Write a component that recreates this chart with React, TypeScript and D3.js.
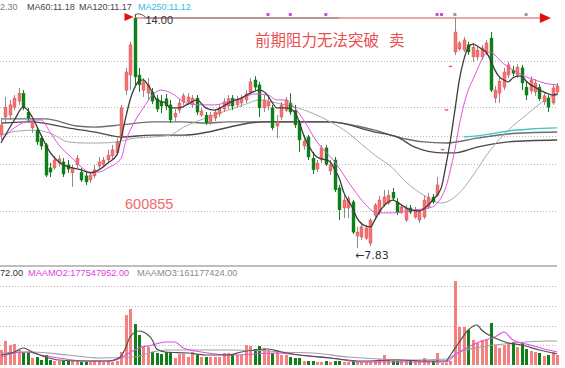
import React from 'react';
import * as d3 from 'd3';

const W = 565;
const H = 368;

// ---- daily candles (price) ----
const opens = [
  10.82, 11.30, 11.35, 11.56, 11.72, 11.93, 11.43, 11.01, 10.95, 10.74,
  10.56, 9.95, 9.95, 10.08, 10.11, 10.03, 9.82, 10.03, 9.84, 9.74,
  9.63, 9.74, 10.00, 10.05, 10.16, 10.27, 10.35, 10.74, 12.01, 12.41,
  13.92, 12.41, 12.01, 11.93, 11.96, 11.78, 11.70, 11.78, 11.62, 11.30,
  11.48, 11.70, 11.70, 11.62, 11.80, 11.35, 11.35, 11.17, 11.27, 11.38,
  11.51, 11.59, 11.80, 11.62, 11.67, 11.75, 11.96, 12.28, 12.15, 11.54,
  11.59, 11.54, 11.06, 11.30, 11.48, 11.67, 11.48, 11.14, 10.53, 10.77,
  10.21, 9.92, 10.16, 10.48, 9.87, 10.16, 9.42, 8.89, 8.89, 9.05,
  8.15, 8.12, 8.09, 7.96, 8.70, 8.78, 8.97, 9.02, 9.31, 9.05,
  8.78, 8.57, 8.89, 8.65, 8.57, 8.65, 8.92, 9.18, 9.23, 10.45,
  11.50, 12.65, 13.02, 13.10, 13.07, 13.21, 12.89, 12.89, 12.89, 13.02,
  13.39, 11.80, 11.93, 12.09, 12.41, 12.54, 12.41, 12.60, 12.09, 11.99,
  11.96, 12.09, 11.70, 11.80, 11.67, 11.96,
];
const highs = [
  11.27, 11.83, 11.75, 11.88, 12.07, 12.01, 11.54, 11.27, 11.03, 10.82,
  10.61, 10.08, 10.27, 10.29, 10.21, 10.16, 10.03, 10.29, 9.95, 9.84,
  9.84, 10.03, 10.24, 10.24, 10.43, 10.56, 10.74, 11.62, 12.60, 13.29,
  14.00, 12.60, 12.33, 12.33, 12.07, 11.88, 11.88, 11.91, 11.75, 11.51,
  11.78, 11.93, 11.93, 11.88, 11.88, 11.54, 11.43, 11.43, 11.51, 11.62,
  11.80, 11.88, 11.88, 11.86, 11.88, 12.01, 12.33, 12.38, 12.23, 11.88,
  11.83, 11.62, 11.35, 11.70, 11.83, 11.93, 11.62, 11.22, 10.82, 10.82,
  10.37, 10.16, 10.56, 10.56, 10.16, 10.24, 9.50, 9.23, 9.21, 9.10,
  8.39, 8.52, 8.44, 8.62, 9.02, 9.21, 9.37, 9.37, 9.42, 9.15,
  9.00, 8.97, 8.97, 8.92, 8.84, 9.21, 9.29, 9.26, 9.71, 10.45,
  11.50, 12.65, 13.92, 13.31, 13.42, 13.29, 13.26, 13.18, 13.21, 13.34,
  13.55, 12.12, 12.38, 12.60, 12.76, 12.65, 12.70, 12.68, 12.23, 12.38,
  12.30, 12.17, 11.96, 11.88, 12.17, 12.20,
];
const lows = [
  10.69, 11.17, 11.22, 11.48, 11.62, 11.48, 11.17, 10.88, 10.56, 10.43,
  9.71, 9.71, 9.90, 9.98, 9.71, 9.82, 9.45, 9.95, 9.58, 9.50,
  9.55, 9.68, 9.90, 9.98, 10.08, 10.16, 10.29, 10.69, 11.88, 12.01,
  12.15, 11.96, 11.83, 11.75, 11.64, 11.43, 11.40, 11.48, 11.14, 11.17,
  11.40, 11.62, 11.62, 11.54, 11.35, 11.30, 11.09, 11.09, 11.19, 11.30,
  11.43, 11.51, 11.48, 11.54, 11.56, 11.67, 11.88, 12.01, 11.30, 11.43,
  11.48, 10.95, 10.74, 11.22, 11.43, 11.35, 11.01, 10.37, 10.43, 10.16,
  9.79, 9.84, 10.08, 10.00, 9.76, 9.31, 8.57, 8.62, 8.62, 8.20,
  7.83, 8.04, 8.04, 7.88, 8.57, 8.70, 8.92, 8.97, 9.10, 8.70,
  8.73, 8.52, 8.73, 8.60, 8.49, 8.60, 8.86, 9.00, 9.18, 10.45,
  11.50, 12.65, 12.94, 13.05, 13.02, 12.94, 12.76, 12.81, 12.81, 12.94,
  11.96, 11.67, 11.67, 12.01, 12.33, 12.38, 12.33, 12.01, 11.75, 11.91,
  11.86, 11.72, 11.62, 11.43, 11.62, 11.88,
];
const closes = [
  11.09, 11.56, 11.62, 11.80, 11.93, 11.56, 11.27, 11.17, 10.64, 10.53,
  9.76, 9.84, 10.16, 10.19, 9.79, 9.92, 9.95, 10.21, 9.63, 9.58,
  9.76, 9.90, 10.11, 10.16, 10.29, 10.43, 10.64, 11.54, 12.49, 13.21,
  12.36, 12.15, 12.23, 12.15, 11.72, 11.51, 11.59, 11.59, 11.22, 11.40,
  11.67, 11.86, 11.83, 11.80, 11.43, 11.46, 11.14, 11.35, 11.43, 11.54,
  11.70, 11.78, 11.59, 11.75, 11.80, 11.91, 12.23, 12.09, 11.54, 11.75,
  11.70, 11.01, 11.17, 11.62, 11.75, 11.43, 11.09, 10.69, 10.66, 10.24,
  9.90, 10.08, 10.48, 10.05, 10.03, 9.37, 8.84, 9.10, 9.15, 8.25,
  8.25, 8.39, 8.36, 8.57, 8.97, 9.10, 9.18, 9.23, 9.15, 8.76,
  8.92, 8.89, 8.78, 8.84, 8.78, 9.10, 9.18, 9.05, 9.50, 10.45,
  11.50, 12.65, 13.55, 13.26, 13.34, 13.02, 13.15, 13.07, 13.13, 13.26,
  12.01, 12.01, 12.25, 12.49, 12.68, 12.46, 12.62, 12.20, 11.88, 12.28,
  12.20, 11.78, 11.86, 11.56, 12.07, 12.12,
];
// volume (scaled units)
const volumes = [
  15, 24, 20, 21, 15, 13, 13, 7, 8, 5,
  10, 5, 4, 4, 4, 4, 4, 4, 3, 3,
  3, 4, 4, 3, 4, 3, 4, 13, 50, 56,
  41, 30, 19, 18, 13, 12, 11, 13, 13, 7,
  11, 11, 8, 13, 10, 8, 8, 8, 8, 8,
  12, 12, 10, 10, 10, 20, 19, 16, 19, 17,
  15, 12, 13, 10, 10, 8, 7, 7, 4, 4,
  4, 3, 3, 4, 3, 4, 4, 3, 3, 4,
  3, 3, 3, 3, 4, 6, 10, 6, 4, 4,
  4, 4, 4, 4, 4, 7, 4, 4, 12, 2,
  2, 4, 84, 38, 38, 35, 25, 22, 25, 25,
  42, 20, 17, 20, 21, 23, 18, 22, 16, 14,
  13, 12, 9, 10, 13, 10,
];

// ---- moving average lines: [candle index, value] ----
const ma5Pts = [
  [0, 10.61], [3, 11.22], [5, 11.56], [6, 11.48], [7, 11.30], [9, 10.82], [11, 10.37], [13, 10.11],
  [16, 9.95], [18, 9.90], [20, 9.82], [22, 9.90], [24, 10.08], [26, 10.29], [27, 10.74], [28, 11.27],
  [29, 11.75], [30, 12.07], [31, 12.25], [32, 12.28], [33, 12.15], [34, 11.96], [35, 11.75], [37, 11.67],
  [38, 11.54], [40, 11.54], [42, 11.64], [44, 11.75], [46, 11.54], [48, 11.48], [50, 11.59], [52, 11.72],
  [54, 11.80], [56, 11.93], [58, 12.01], [60, 11.86], [61, 11.67], [62, 11.54], [64, 11.54], [66, 11.43],
  [67, 11.17], [68, 10.82], [70, 10.37], [71, 10.24], [73, 10.16], [74, 10.11], [75, 9.90], [76, 9.68],
  [77, 9.31], [79, 8.89], [80, 8.62], [82, 8.41], [83, 8.39], [84, 8.57], [85, 8.78], [87, 9.05],
  [88, 9.10], [89, 9.05], [90, 8.97], [92, 8.84], [94, 8.81], [96, 8.97], [97, 9.10], [98, 9.23],
  [99, 9.45], [100, 10.03], [101, 10.69], [102, 11.48], [103, 12.28], [104, 12.81], [105, 13.15], [106, 13.23],
  [107, 13.18], [108, 13.10], [109, 13.02], [110, 12.81], [111, 12.54], [112, 12.36], [113, 12.28], [114, 12.23],
  [115, 12.33], [116, 12.38], [117, 12.38], [118, 12.25], [119, 12.15], [120, 12.09], [121, 12.01], [122, 11.96],
  [123, 11.91], [124, 11.88], [125, 11.91],
];
const ma10Pts = [
  [0, 10.69], [4, 11.09], [7, 11.22], [9, 11.22], [11, 10.90], [13, 10.56], [16, 10.21], [18, 9.98],
  [20, 9.84], [22, 9.84], [24, 9.95], [27, 10.21], [28, 10.64], [30, 11.17], [32, 11.54], [34, 11.88],
  [36, 12.01], [39, 11.88], [41, 11.70], [43, 11.64], [45, 11.62], [48, 11.62], [51, 11.70], [54, 11.80],
  [57, 11.91], [60, 11.88], [62, 11.75], [64, 11.75], [66, 11.54], [68, 11.22], [71, 10.64], [75, 10.11],
  [79, 9.42], [82, 8.97], [84, 8.78], [86, 8.76], [88, 8.76], [93, 8.84], [97, 8.92], [98, 9.02],
  [99, 9.18], [100, 9.45], [101, 9.90], [102, 10.43], [103, 11.09], [104, 11.62], [105, 12.01], [106, 12.28],
  [107, 12.54], [108, 12.81], [109, 12.99], [110, 13.02], [111, 12.94], [112, 12.81], [114, 12.62], [116, 12.49],
  [118, 12.36], [120, 12.28], [122, 12.20], [125, 12.15],
];
const ma30Pts = [
  [0, 10.82], [4, 10.93], [8, 10.95], [12, 10.82], [15, 10.64], [19, 10.61], [22, 10.61], [26, 10.64],
  [30, 10.74], [34, 10.77], [38, 10.82], [41, 11.03], [46, 11.27], [51, 11.48], [55, 11.64], [58, 11.75],
  [62, 11.67], [66, 11.56], [70, 11.40], [74, 11.17], [78, 10.88], [81, 10.58], [84, 10.29], [88, 9.95],
  [91, 9.58], [95, 9.23], [99, 9.02], [101, 9.10], [104, 9.42], [106, 9.74], [110, 10.43], [114, 10.95],
  [118, 11.35], [121, 11.64], [123, 11.80], [125, 11.88],
];
const ma60Pts = [
  [0, 11.25], [10, 11.25], [17, 11.06], [21, 11.03], [27, 11.09], [34, 11.17], [41, 11.17], [46, 11.14],
  [51, 11.17], [59, 11.17], [74, 11.17], [80, 11.06], [84, 10.95], [89, 10.77], [95, 10.64], [100, 10.61],
  [107, 10.74], [114, 10.85], [125, 10.90],
];
const ma120Pts = [
  [0, 11.14], [7, 11.17], [15, 11.01], [22, 10.88], [27, 10.77], [34, 10.82], [41, 10.82], [59, 11.17],
  [74, 11.17], [84, 10.90], [89, 10.77], [93, 10.50], [99, 10.35], [102, 10.35], [107, 10.50], [114, 10.64],
  [125, 10.69],
];
const ma250Pts = [
  [104, 10.77], [107, 10.80], [110, 10.85], [114, 10.93], [119, 10.98], [125, 11.01],
];

// volume averages [index, value]
const volMa1Pts = [
  [0, 10], [3, 13], [5, 17], [7, 13], [10, 8], [13, 5], [18, 4], [24, 4], [26, 6], [27, 9],
  [28, 17], [29, 28], [31, 34], [32, 33], [34, 25], [35, 16], [37, 13], [42, 12], [46, 10], [51, 10],
  [54, 13], [57, 15], [60, 16], [63, 13], [67, 10], [74, 7], [81, 4], [89, 5], [96, 4], [100, 4],
  [101, 10], [103, 23], [105, 35], [107, 40], [108, 35], [111, 27], [114, 22], [117, 20], [121, 15], [125, 11],
];
const volMa2Pts = [
  [0, 8], [3, 12], [6, 13], [9, 10], [13, 7], [19, 4], [25, 4], [28, 10], [31, 17], [34, 20],
  [37, 23], [39, 23], [41, 17], [45, 13], [52, 10], [62, 12], [67, 10], [74, 7], [81, 3], [90, 3],
  [100, 3], [102, 10], [105, 18], [108, 24], [111, 28], [113, 33], [115, 25], [119, 20], [123, 15], [125, 13],
];
const volMa3Pts = [
  [0, 12], [7, 13], [15, 10], [22, 7], [30, 8], [34, 13], [37, 15], [45, 15], [52, 15], [60, 14],
  [63, 13], [70, 12], [78, 8], [85, 6], [93, 5], [100, 6], [103, 13], [108, 18], [115, 22], [123, 24],
  [125, 24],
];

// grid levels
const priceGrid = [12.78, 11.56, 10.8, 10.05, 8.81];
const volGrid = [79, 59, 39, 20];

// header texts
const mainHeader = [
  { text: '2.30', color: '#7a7a7a' },
  { text: 'MA60:11.18', color: '#444' },
  { text: 'MA120:11.17', color: '#444' },
  { text: 'MA250:11.12', color: '#2bbde0' },
];
const mainHeaderX = [0, 27, 79, 138];
const volHeader = [
  { text: '72.00', color: '#333' },
  { text: 'MAAMO2:177547952.00', color: '#e040e0' },
  { text: 'MAAMO3:161177424.00', color: '#8a8a8a' },
];
const volHeaderX = [0, 28, 137];

// annotations
const markerIdx = [60, 65, 73, 98, 99, 102, 118];
const markerColor = ['#c050e0', '#c050e0', '#c050e0', '#c050e0', '#c050e0', '#999', '#999'];
const highIdx = 30;
const lowIdx = 80;
const arrowEndIdx = 122;
const noteText = '前期阻力无法突破';
const noteSell = '卖';
const codeText = '600855';

const N = closes.length;

export default function App() {
  const x = d3.scaleLinear().domain([0, N - 1]).range([1, 557.25]);
  const y = d3.scaleLinear().domain([7.83, 14]).range([248, 15]);
  const yv = d3.scaleLinear().domain([0, 100]).range([365, 265]);

  const mkLine = (ys: d3.ScaleLinear<number, number>) =>
    d3
      .line<number[]>()
      .x((d) => x(d[0]))
      .y((d) => ys(d[1]))
      .curve(d3.curveMonotoneX);
  const pl = mkLine(y);
  const vl = mkLine(yv);

  const red = '#f57272';
  const redStroke = '#e54848';
  const green = '#0f7f1a';
  const font = "'Liberation Sans', Arial, sans-serif";

  const bw = 3;
  const candles = closes.map((c, i) => {
    const o = opens[i];
    const up = c >= o;
    const cx = Math.round(x(i));
    const top = y(Math.max(o, c));
    const bot = y(Math.min(o, c));
    const h = Math.max(1, bot - top);
    return (
      <g key={i}>
        <line
          x1={cx + 0.5}
          x2={cx + 0.5}
          y1={y(highs[i])}
          y2={y(lows[i])}
          stroke={up ? '#8c8c8c' : green}
          strokeWidth={1}
        />
        <rect
          x={cx - 1}
          y={top}
          width={bw}
          height={h}
          fill={up ? red : green}
          stroke={up ? redStroke : green}
          strokeWidth={0.4}
        />
      </g>
    );
  });

  const vbars = volumes.map((v, i) => {
    const up = closes[i] >= opens[i];
    const cx = Math.round(x(i));
    return (
      <rect
        key={i}
        x={cx - 1}
        y={yv(v)}
        width={bw}
        height={yv(0) - yv(v)}
        fill={up ? '#f68080' : green}
        shapeRendering="crispEdges"
      />
    );
  });

  const hiX = x(highIdx);
  const hiY = y(highs[highIdx]);
  const lineY = hiY + 3;
  const endX = x(arrowEndIdx);

  return (
    <svg
      width={W}
      height={H}
      style={{ position: 'absolute', left: 0, top: 0, background: '#fff', display: 'block' }}
    >
      <rect x={0} y={0} width={W} height={H} fill="#fff" />
      {/* grids */}
      {priceGrid.map((p, i) => (
        <line key={'pg' + i} x1={0} x2={557} y1={Math.round(y(p)) + 0.5} y2={Math.round(y(p)) + 0.5}
          stroke="#b8b8b8" strokeDasharray="1,2" strokeWidth={1} />
      ))}
      {volGrid.map((v, i) => (
        <line key={'vg' + i} x1={0} x2={557} y1={Math.round(yv(v)) + 0.5} y2={Math.round(yv(v)) + 0.5}
          stroke="#b8b8b8" strokeDasharray="1,2" strokeWidth={1} />
      ))}
      <line x1={0} x2={557} y1={266} y2={266} stroke="#a8a8a8" strokeWidth={1.5} />

      {/* long MAs */}
      <path d={pl(ma60Pts as any) || ''} fill="none" stroke="#6e6e6e" strokeWidth={1.4} />
      <path d={pl(ma120Pts as any) || ''} fill="none" stroke="#4a4a4a" strokeWidth={1.4} />
      <path d={pl(ma250Pts as any) || ''} fill="none" stroke="#3cc8cc" strokeWidth={1.4} />
      <path d={pl(ma30Pts as any) || ''} fill="none" stroke="#a9a9a9" strokeWidth={1} />

      {/* candles */}
      <g>{candles}</g>

      {/* short MAs */}
      <path d={pl(ma10Pts as any) || ''} fill="none" stroke="#dd55dd" strokeWidth={1} />
      <path d={pl(ma5Pts as any) || ''} fill="none" stroke="#3c3c3c" strokeWidth={1.3} />

      {/* volume */}
      <g>{vbars}</g>
      <path d={vl(volMa3Pts as any) || ''} fill="none" stroke="#a0a0a0" strokeWidth={1.1} />
      <path d={vl(volMa2Pts as any) || ''} fill="none" stroke="#e050e0" strokeWidth={1.1} />
      <path d={vl(volMa1Pts as any) || ''} fill="none" stroke="#505050" strokeWidth={1.2} />

      {/* resistance line */}
      <line x1={hiX} x2={endX} y1={lineY} y2={lineY} stroke="#d85050" strokeWidth={1} />
      <line x1={hiX + 10} x2={x(76)} y1={lineY} y2={lineY} stroke="#8a8080" strokeWidth={1.2} />
      <polygon
        points={`${endX - 4},${lineY - 5} ${endX + 7},${lineY} ${endX - 4},${lineY + 5}`}
        fill="#e01010"
      />
      <polygon
        points={`${hiX - 10},${hiY - 2} ${hiX - 1},${hiY + 2} ${hiX - 10},${hiY + 6}`}
        fill="#e01010"
      />
      <path d={`M${hiX},${hiY} Q${hiX + 5},${hiY - 3} ${hiX + 11},${hiY + 2}`} fill="none" stroke="#555" strokeWidth={1} />
      {markerIdx.map((mi, i) => (
        <rect key={'mk' + i} x={x(mi) - 1.5} y={lineY - 5} width={3} height={3} fill={markerColor[i]} />
      ))}

      {/* texts */}
      <text x={hiX + 11} y={hiY + 9} fontSize={11} fontFamily={font} fill="#333">
        {highs[highIdx].toFixed(2)}
      </text>
      <text x={x(lowIdx) - 2} y={y(lows[lowIdx]) + 11} fontSize={11} fontFamily="'DejaVu Sans', 'Liberation Sans', sans-serif" fill="#333">
        {'←' + lows[lowIdx].toFixed(2)}
      </text>
      <text x={255} y={46} fontSize={15.5} fontFamily="'Noto Sans CJK SC', sans-serif" fill="#e85050">
        {noteText}
      </text>
      <text x={389} y={46} fontSize={15.5} fontFamily="'Noto Sans CJK SC', sans-serif" fill="#e85050">
        {noteSell}
      </text>
      <text x={125} y={209} fontSize={14.5} fontFamily={font} fill="#f06a6a">
        {codeText}
      </text>

      {mainHeader.map((h, i) => (
        <text key={'mh' + i} x={mainHeaderX[i]} y={10} fontSize={9} fontFamily={font} fill={h.color}>
          {h.text}
        </text>
      ))}
      {volHeader.map((h, i) => (
        <text key={'vh' + i} x={volHeaderX[i]} y={276} fontSize={9.2} fontFamily={font} fill={h.color}>
          {h.text}
        </text>
      ))}
    </svg>
  );
}
